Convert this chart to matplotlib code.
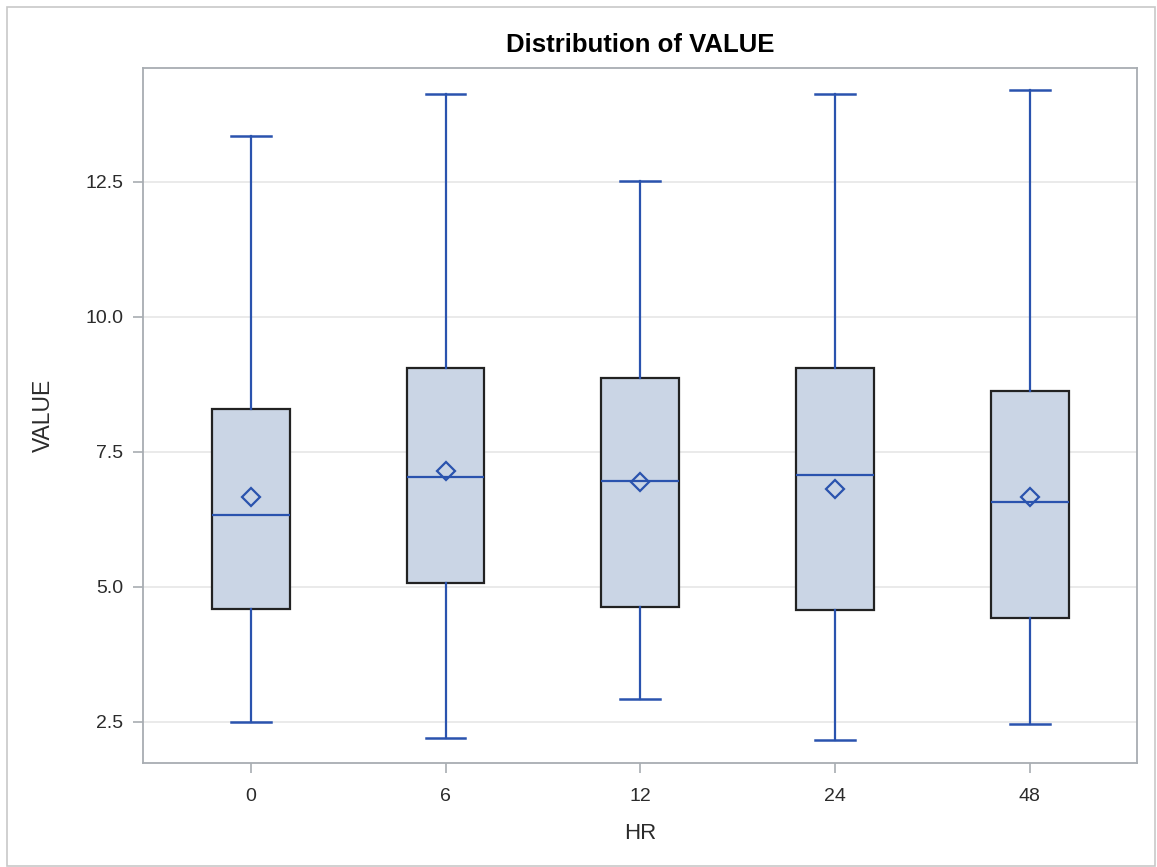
import numpy as np
import matplotlib
matplotlib.use('Agg')
import matplotlib.pyplot as plt
from matplotlib.patches import Rectangle

plt.rcParams['font.family'] = ['Liberation Sans', 'DejaVu Sans']

# values
hr_labels = ['0', '6', '12', '24', '48']
whisker_lo = [2.49, 2.19, 2.92, 2.15, 2.46]
q1 = [4.59, 5.06, 4.62, 4.56, 4.42]
median = [6.32, 7.03, 6.96, 7.06, 6.56]
mean = [6.66, 7.14, 6.93, 6.80, 6.66]
q3 = [8.29, 9.05, 8.86, 9.05, 8.63]
whisker_hi = [13.34, 14.13, 12.51, 14.13, 14.19]

box_fill = '#CAD5E5'
line_blue = '#2A53AE'
grid_col = '#E8E8E8'
spine_col = '#A8ADB2'
text_col = '#2B2B2B'

stats = []
for i in range(len(hr_labels)):
    stats.append(dict(whislo=whisker_lo[i], q1=q1[i], med=median[i], mean=mean[i],
                      q3=q3[i], whishi=whisker_hi[i], fliers=[], label=hr_labels[i]))

fig = plt.figure(figsize=(11.57, 8.67), dpi=100)
ax = fig.add_axes([0.1233, 0.1196, 0.8594, 0.8016])

ax.bxp(stats, positions=np.arange(len(hr_labels)), widths=0.40, patch_artist=True,
       showmeans=True, meanline=False,
       boxprops=dict(facecolor=box_fill, edgecolor='#222222', linewidth=1.6),
       medianprops=dict(color=line_blue, linewidth=1.6),
       whiskerprops=dict(color=line_blue, linewidth=1.6),
       capprops=dict(color=line_blue, linewidth=1.8),
       meanprops=dict(marker='D', markerfacecolor='none', markeredgecolor=line_blue,
                      markersize=9, markeredgewidth=1.6),
       capwidths=0.205, zorder=3)

ax.set_xlim(-0.555, 4.55)
ax.set_ylim(1.726, 14.60)
ax.set_yticks([2.5, 5.0, 7.5, 10.0, 12.5])
ax.set_yticklabels(['2.5', '5.0', '7.5', '10.0', '12.5'])
ax.yaxis.grid(True, color=grid_col, linewidth=1.3, zorder=0)
ax.set_axisbelow(True)

for s in ax.spines.values():
    s.set_color(spine_col)
    s.set_linewidth(1.3)
ax.tick_params(axis='both', colors=spine_col, length=7, width=1.2, labelcolor=text_col,
               labelsize=14)
ax.tick_params(axis='x', pad=11)
ax.tick_params(axis='y', pad=7)

ax.set_xlabel('HR', fontsize=16, color=text_col, labelpad=13)
ax.set_ylabel('VALUE', fontsize=16.5, color=text_col, labelpad=22)
ax.set_title('Distribution of VALUE', fontsize=18.5, fontweight='bold', pad=12)

# light frame around the whole graph, as in the SAS output
fig.patches.append(Rectangle((7 / 1157, 1 / 867), 1148 / 1157, 859 / 867,
                             transform=fig.transFigure, fill=False,
                             edgecolor='#C8C8C8', linewidth=1.2))

fig.savefig('out.png', dpi=100)
